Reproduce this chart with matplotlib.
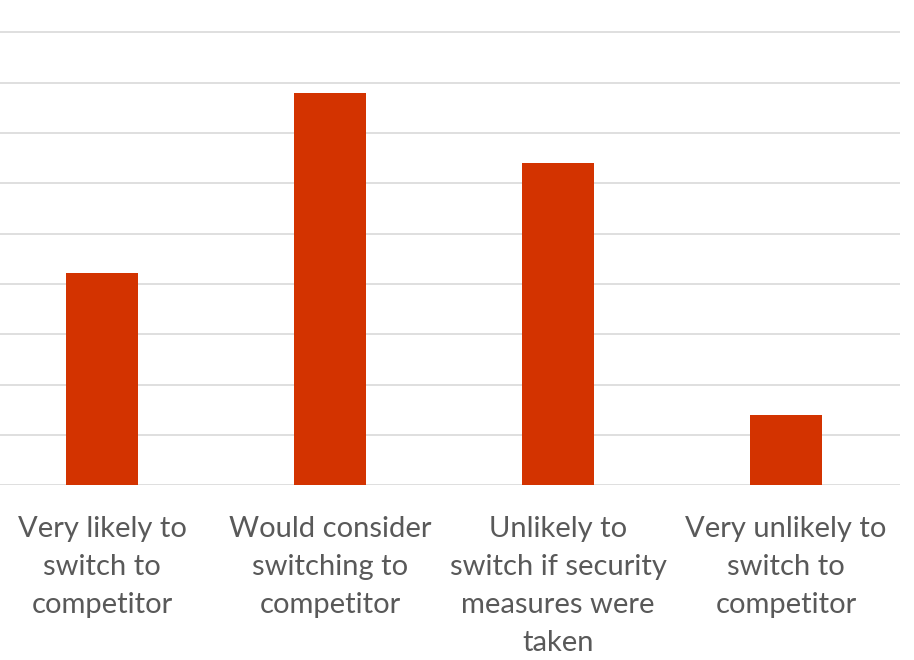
import matplotlib.pyplot as plt
import numpy as np

# === Data ===
categories = [
    "Very likely to\nswitch to\ncompetitor",
    "Would consider\nswitching to\ncompetitor",
    "Unlikely to\nswitch if security\nmeasures were\ntaken",
    "Very unlikely to\nswitch to\ncompetitor",
]
values = [21.1, 39.0, 32.0, 7.0]
grid_ticks = [0, 5, 10, 15, 20, 25, 30, 35, 40, 45]

# === Figure ===
fig = plt.figure(figsize=(9.14, 6.6), dpi=100)
ax = fig.add_axes([-12 / 914, 1 - 485.3 / 660, 912 / 914, 485.3 / 660])

x = np.arange(len(categories))
ax.bar(x, values, width=0.316, color="#d33300", zorder=3)

ax.set_xlim(-0.5, 3.5)
ax.set_ylim(0, 48.2)
ax.set_yticks(grid_ticks)
ax.yaxis.grid(True, color="#d9d9d9", linewidth=1.2, zorder=0)
ax.tick_params(axis="y", left=False, labelleft=False)
ax.tick_params(axis="x", length=0, pad=22)
ax.set_xticks(x)
ax.set_xticklabels(categories, fontsize=21, color="#595959",
                   family="Lato", linespacing=1.58, va="top")

for s in ["top", "right", "left", "bottom"]:
    ax.spines[s].set_visible(False)

fig.savefig("out.png", dpi=100)
